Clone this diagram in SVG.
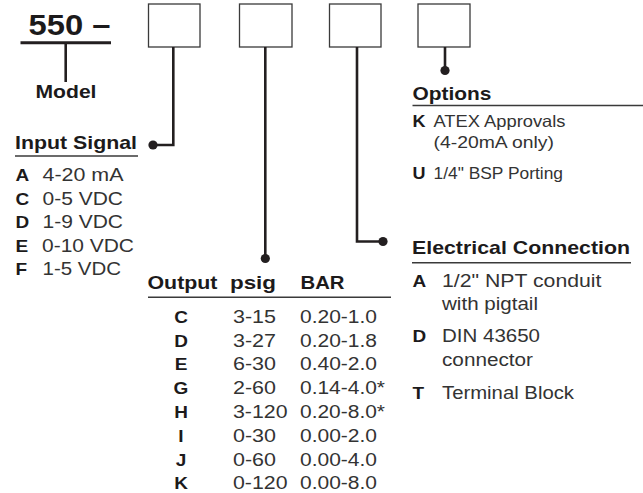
<svg xmlns="http://www.w3.org/2000/svg" width="643" height="493" viewBox="0 0 643 493">
<style>
text{font-family:"Liberation Sans",Arial,Helvetica,sans-serif}
.h{font-weight:bold;font-size:18.5px;fill:#1c1a1b}
.b{font-weight:bold;font-size:17px;fill:#1c1a1b}
.r{font-size:17.5px;fill:#333}
.ro{font-size:16.5px;fill:#333}
.m{text-anchor:middle}
.box{fill:#fff;stroke:#3a3a3a;stroke-width:1.3}
.ul{stroke:#3a3a3a;stroke-width:1.6;fill:none}
.con{stroke:#231f20;stroke-width:2.6;fill:none}
.dot{fill:#231f20}
</style>
<g id="model">
<text class="h" x="28.5" y="35" style="font-size:29.5px" textLength="82" lengthAdjust="spacingAndGlyphs">550 –</text>
<line x1="20.5" y1="42.7" x2="111" y2="42.7" stroke="#231f20" stroke-width="3"/>
<line x1="65.7" y1="43" x2="65.7" y2="82" stroke="#231f20" stroke-width="2.6"/>
<text class="h" x="35.5" y="98.3" textLength="61" lengthAdjust="spacingAndGlyphs">Model</text>
</g>
<g id="box-input"><rect class="box" x="148.5" y="4" width="51.5" height="43"/></g>
<g id="box-output"><rect class="box" x="239.5" y="4" width="52.5" height="43"/></g>
<g id="box-electrical"><rect class="box" x="329.5" y="4" width="51.5" height="43"/></g>
<g id="box-options"><rect class="box" x="418" y="4" width="52" height="43"/></g>
<g id="connectors">
<path class="con" d="M173.3,47 V145 H153"/>
<circle class="dot" cx="153" cy="145" r="4.6"/>
<path class="con" d="M265.3,47 V258.5"/>
<circle class="dot" cx="265.3" cy="258.5" r="4.6"/>
<path class="con" d="M357,47 V241.5 H383"/>
<circle class="dot" cx="383" cy="241.5" r="4.6"/>
<path class="con" d="M445,47 V70.5"/>
<circle class="dot" cx="445" cy="70.5" r="4.6"/>
</g>
<g id="input-signal">
<text class="h" x="15" y="149.3" textLength="122" lengthAdjust="spacingAndGlyphs">Input Signal</text>
<line class="ul" x1="15" y1="156" x2="138" y2="156"/>
<text class="b" x="15.5" y="181" textLength="13.7" lengthAdjust="spacingAndGlyphs">A</text>
<text class="r" x="42.5" y="181" textLength="81" lengthAdjust="spacingAndGlyphs">4-20 mA</text>
<text class="b" x="15.5" y="204.5" textLength="13.7" lengthAdjust="spacingAndGlyphs">C</text>
<text class="r" x="42.5" y="204.5" textLength="80.5" lengthAdjust="spacingAndGlyphs">0-5 VDC</text>
<text class="b" x="15.5" y="228" textLength="13.7" lengthAdjust="spacingAndGlyphs">D</text>
<text class="r" x="42.5" y="228" textLength="80.5" lengthAdjust="spacingAndGlyphs">1-9 VDC</text>
<text class="b" x="15.5" y="251.5" textLength="12.7" lengthAdjust="spacingAndGlyphs">E</text>
<text class="r" x="42" y="251.5" textLength="92" lengthAdjust="spacingAndGlyphs">0-10 VDC</text>
<text class="b" x="15.5" y="275" textLength="11.6" lengthAdjust="spacingAndGlyphs">F</text>
<text class="r" x="42.5" y="275" textLength="78.5" lengthAdjust="spacingAndGlyphs">1-5 VDC</text>
</g>
<g id="output">
<text class="h" x="147.5" y="289.3" textLength="70" lengthAdjust="spacingAndGlyphs">Output</text>
<text class="h" x="230" y="289.3" textLength="46" lengthAdjust="spacingAndGlyphs">psig</text>
<text class="h" x="300.5" y="289.3" textLength="44" lengthAdjust="spacingAndGlyphs">BAR</text>
<line class="ul" x1="148" y1="297.3" x2="391" y2="297.3"/>
<text class="b m" x="181" y="322.7" textLength="13.7" lengthAdjust="spacingAndGlyphs">C</text>
<text class="r" x="233" y="322.7" textLength="43" lengthAdjust="spacingAndGlyphs">3-15</text>
<text class="r" x="300" y="322.7" textLength="77" lengthAdjust="spacingAndGlyphs">0.20-1.0</text>
<text class="b m" x="181" y="346.5" textLength="13.7" lengthAdjust="spacingAndGlyphs">D</text>
<text class="r" x="233" y="346.5" textLength="43" lengthAdjust="spacingAndGlyphs">3-27</text>
<text class="r" x="300" y="346.5" textLength="77" lengthAdjust="spacingAndGlyphs">0.20-1.8</text>
<text class="b m" x="181" y="370.3" textLength="12.7" lengthAdjust="spacingAndGlyphs">E</text>
<text class="r" x="233" y="370.3" textLength="43" lengthAdjust="spacingAndGlyphs">6-30</text>
<text class="r" x="300" y="370.3" textLength="77" lengthAdjust="spacingAndGlyphs">0.40-2.0</text>
<text class="b m" x="181" y="394.1" textLength="14.8" lengthAdjust="spacingAndGlyphs">G</text>
<text class="r" x="233" y="394.1" textLength="43" lengthAdjust="spacingAndGlyphs">2-60</text>
<text class="r" x="300" y="394.1" textLength="85" lengthAdjust="spacingAndGlyphs">0.14-4.0*</text>
<text class="b m" x="181" y="417.9" textLength="13.7" lengthAdjust="spacingAndGlyphs">H</text>
<text class="r" x="233" y="417.9" textLength="54.5" lengthAdjust="spacingAndGlyphs">3-120</text>
<text class="r" x="300" y="417.9" textLength="85" lengthAdjust="spacingAndGlyphs">0.20-8.0*</text>
<text class="b m" x="181" y="441.7" textLength="5.3" lengthAdjust="spacingAndGlyphs">I</text>
<text class="r" x="233" y="441.7" textLength="43" lengthAdjust="spacingAndGlyphs">0-30</text>
<text class="r" x="300" y="441.7" textLength="77" lengthAdjust="spacingAndGlyphs">0.00-2.0</text>
<text class="b m" x="181" y="465.5" textLength="10.6" lengthAdjust="spacingAndGlyphs">J</text>
<text class="r" x="233" y="465.5" textLength="43" lengthAdjust="spacingAndGlyphs">0-60</text>
<text class="r" x="300" y="465.5" textLength="77" lengthAdjust="spacingAndGlyphs">0.00-4.0</text>
<text class="b m" x="181" y="489.3" textLength="13.7" lengthAdjust="spacingAndGlyphs">K</text>
<text class="r" x="233" y="489.3" textLength="54.5" lengthAdjust="spacingAndGlyphs">0-120</text>
<text class="r" x="300" y="489.3" textLength="77" lengthAdjust="spacingAndGlyphs">0.00-8.0</text>
</g>
<g id="electrical-connection">
<text class="h" x="412" y="254.3" textLength="218" lengthAdjust="spacingAndGlyphs">Electrical Connection</text>
<line class="ul" x1="412" y1="262.7" x2="631" y2="262.7"/>
<text class="b" x="412.5" y="287" textLength="13.7" lengthAdjust="spacingAndGlyphs">A</text>
<text class="r" x="442" y="287" textLength="159.5" lengthAdjust="spacingAndGlyphs">1/2" NPT conduit</text>
<text class="r" x="442" y="310" textLength="96" lengthAdjust="spacingAndGlyphs">with pigtail</text>
<text class="b" x="412.5" y="342" textLength="13.7" lengthAdjust="spacingAndGlyphs">D</text>
<text class="r" x="442" y="342" textLength="98" lengthAdjust="spacingAndGlyphs">DIN 43650</text>
<text class="r" x="442" y="365.5" textLength="91" lengthAdjust="spacingAndGlyphs">connector</text>
<text class="b" x="412.5" y="398.5" textLength="11.6" lengthAdjust="spacingAndGlyphs">T</text>
<text class="r" x="442" y="398.5" textLength="132" lengthAdjust="spacingAndGlyphs">Terminal Block</text>
</g>
<g id="options">
<text class="h" x="412.5" y="100" textLength="79" lengthAdjust="spacingAndGlyphs">Options</text>
<line class="ul" x1="412.5" y1="105.5" x2="643" y2="105.5"/>
<text class="b" x="412.5" y="127" textLength="13" lengthAdjust="spacingAndGlyphs">K</text>
<text class="ro" x="433.5" y="127" textLength="132" lengthAdjust="spacingAndGlyphs">ATEX Approvals</text>
<text class="ro" x="433.5" y="148" textLength="120.5" lengthAdjust="spacingAndGlyphs">(4-20mA only)</text>
<text class="b" x="412.5" y="179" textLength="13" lengthAdjust="spacingAndGlyphs">U</text>
<text class="ro" x="433.5" y="179" textLength="129.5" lengthAdjust="spacingAndGlyphs">1/4" BSP Porting</text>
</g>
</svg>
